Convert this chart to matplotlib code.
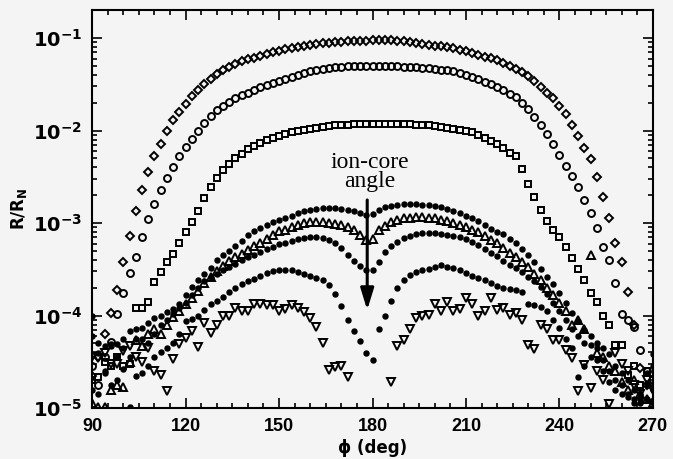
import numpy as np
import matplotlib
matplotlib.use('Agg')
import matplotlib.pyplot as plt
from matplotlib.ticker import FixedLocator, MultipleLocator, LogLocator, NullFormatter

# angles phi (deg), one point every 2 degrees
phi = np.arange(90, 271, 2)

# log10(R/R_N), 91 values per series (90..270 deg)
log_diamond = [
    -4.65, -4.45, -4.20, -3.97, -3.72, -3.42, -3.14, -2.87, -2.64, -2.45,
    -2.27, -2.14, -2.00, -1.89, -1.80, -1.71, -1.63, -1.56, -1.50, -1.44,
    -1.39, -1.35, -1.31, -1.28, -1.25, -1.23, -1.21, -1.19, -1.17, -1.15,
    -1.14, -1.12, -1.11, -1.10, -1.08, -1.07, -1.06, -1.05, -1.05, -1.04,
    -1.04, -1.03, -1.03, -1.03, -1.03, -1.02, -1.02, -1.02, -1.02, -1.03,
    -1.03, -1.04, -1.05, -1.06, -1.07, -1.08, -1.09, -1.10, -1.11, -1.13,
    -1.14, -1.16, -1.18, -1.20, -1.22, -1.24, -1.27, -1.30, -1.33, -1.37,
    -1.41, -1.46, -1.53, -1.59, -1.65, -1.73, -1.82, -1.94, -2.06, -2.19,
    -2.31, -2.50, -2.72, -2.95, -3.22, -3.42, -3.74, -4.10, -4.57, -4.75,
    -4.93]
log_circle = [
    -4.55, -4.75, -4.45, -4.29, -3.98, -3.76, -3.54, -3.37, -3.15, -2.96,
    -2.79, -2.64, -2.51, -2.39, -2.28, -2.18, -2.09, -2.00, -1.92, -1.84,
    -1.78, -1.73, -1.69, -1.65, -1.62, -1.59, -1.56, -1.53, -1.51, -1.48,
    -1.46, -1.44, -1.42, -1.40, -1.38, -1.36, -1.35, -1.33, -1.32, -1.31,
    -1.31, -1.30, -1.30, -1.30, -1.30, -1.30, -1.30, -1.30, -1.30, -1.30,
    -1.31, -1.31, -1.31, -1.32, -1.32, -1.33, -1.34, -1.35, -1.36, -1.38,
    -1.40, -1.42, -1.44, -1.47, -1.50, -1.53, -1.56, -1.60, -1.64, -1.70,
    -1.77, -1.85, -1.94, -2.04, -2.15, -2.26, -2.38, -2.49, -2.61, -2.75,
    -2.89, -3.05, -3.26, -3.40, -3.65, -3.98, -4.05, -4.12, -4.37, -4.60,
    -4.75]
log_square = [
    -4.70, -4.66, -4.50, -4.55, -4.45, -4.55, -4.52, -3.92, -3.92, -3.85,
    -3.64, -3.53, -3.42, -3.33, -3.22, -3.10, -2.99, -2.87, -2.73, -2.61,
    -2.51, -2.43, -2.36, -2.30, -2.25, -2.20, -2.17, -2.13, -2.10, -2.08,
    -2.06, -2.04, -2.02, -2.00, -1.99, -1.98, -1.97, -1.96, -1.95, -1.94,
    -1.94, -1.935, -1.93, -1.93, -1.93, -1.93, -1.93, -1.93, -1.93, -1.93,
    -1.93, -1.93, -1.94, -1.94, -1.94, -1.95, -1.96, -1.97, -1.98, -1.99,
    -2.00, -2.02, -2.05, -2.08, -2.11, -2.15, -2.19, -2.24, -2.28, -2.42,
    -2.58, -2.72, -2.86, -2.98, -3.07, -3.15, -3.26, -3.38, -3.50, -3.61,
    -3.76, -3.85, -4.00, -4.10, -4.32, -4.32, -4.64, -4.55, -4.75, -4.60,
    -4.70]
log_dot_top = [
    -4.00, -4.30, -4.33, -4.31, -4.31, -4.25, -4.17, -4.15, -4.13, -4.08,
    -4.03, -4.01, -3.96, -3.93, -3.87, -3.78, -3.69, -3.62, -3.55, -3.49,
    -3.40, -3.35, -3.30, -3.25, -3.19, -3.13, -3.09, -3.05, -3.02, -2.99,
    -2.97, -2.95, -2.92, -2.89, -2.87, -2.86, -2.85, -2.84, -2.84, -2.84,
    -2.85, -2.86, -2.87, -2.89, -2.91, -2.90, -2.86, -2.83, -2.81, -2.80,
    -2.79, -2.79, -2.79, -2.80, -2.80, -2.81, -2.83, -2.85, -2.87, -2.89,
    -2.92, -2.95, -2.98, -3.02, -3.06, -3.10, -3.12, -3.17, -3.22, -3.28,
    -3.34, -3.42, -3.50, -3.58, -3.66, -3.76, -3.86, -3.97, -4.06, -4.16,
    -4.22, -4.30, -4.35, -4.42, -4.55, -4.62, -4.70, -4.80, -4.85, -4.62,
    -4.42]
log_triangle_up = [
    -4.95, -4.99, -4.99, -4.80, -4.75, -4.77, -4.50, -4.26, -4.33, -4.20,
    -4.15, -4.20, -4.10, -4.02, -3.95, -3.88, -3.81, -3.73, -3.65, -3.58,
    -3.52, -3.46, -3.41, -3.37, -3.33, -3.29, -3.25, -3.21, -3.17, -3.13,
    -3.09, -3.07, -3.04, -3.02, -3.00, -2.99, -2.99, -2.99, -3.00, -3.01,
    -3.02, -3.04, -3.08, -3.13, -3.18, -3.17, -3.08, -3.03, -2.99, -2.97,
    -2.95, -2.94, -2.93, -2.93, -2.94, -2.95, -2.97, -2.98, -3.00, -3.02,
    -3.04, -3.07, -3.10, -3.14, -3.18, -3.22, -3.27, -3.32, -3.37, -3.42,
    -3.48, -3.55, -3.62, -3.70, -3.78, -3.86, -3.95, -4.10, -4.05, -4.14,
    -3.35, -4.40, -4.45, -4.55, -4.60, -4.72, -4.80, -4.70, -4.85, -4.90,
    -4.95]
log_dot_mid = [
    -4.22, -4.40, -4.60, -4.33, -4.45, -4.35, -4.45, -4.25, -4.25, -4.30,
    -4.20, -4.10, -4.05, -3.98, -3.92, -3.86, -3.78, -3.70, -3.63, -3.58,
    -3.55, -3.51, -3.47, -3.44, -3.40, -3.37, -3.34, -3.31, -3.28, -3.26,
    -3.23, -3.21, -3.19, -3.17, -3.16, -3.15, -3.15, -3.16, -3.18, -3.22,
    -3.27, -3.34, -3.41, -3.46, -3.51, -3.51, -3.42, -3.31, -3.25, -3.20,
    -3.16, -3.14, -3.12, -3.11, -3.11, -3.11, -3.12, -3.13, -3.14, -3.15,
    -3.17, -3.20, -3.24, -3.28, -3.32, -3.36, -3.41, -3.45, -3.49, -3.53,
    -3.58, -3.63, -3.69, -3.77, -3.86, -3.95, -4.05, -4.15, -4.22, -4.30,
    -4.32, -4.35, -4.48, -4.60, -4.70, -4.75, -4.85, -4.90, -4.95, -4.90,
    -4.80]
log_dot_low = [
    -4.80, -4.85, -4.62, -4.75, -4.70, -4.58, -4.99, -4.65, -4.62, -4.55,
    -4.45, -4.39, -4.35, -4.30, -4.20, -4.06, -4.04, -4.00, -3.94, -3.88,
    -3.84, -3.80, -3.75, -3.70, -3.66, -3.63, -3.60, -3.57, -3.54, -3.52,
    -3.51, -3.51, -3.51, -3.53, -3.55, -3.57, -3.59, -3.62, -3.67, -3.77,
    -3.90, -4.05, -4.17, -4.27, -4.40, -4.48, -4.15, -4.00, -3.84, -3.70,
    -3.62, -3.56, -3.53, -3.51, -3.50, -3.47, -3.45, -3.47, -3.49, -3.51,
    -3.54, -3.57, -3.59, -3.62, -3.65, -3.68, -3.70, -3.71, -3.72, -3.75,
    -3.88, -3.89, -3.91, -3.95, -4.05, -4.13, -4.25, -4.35, -4.66, -4.55,
    -4.45, -4.48, -4.60, -4.72, -4.80, -4.85, -4.88, -4.95, -4.90, -4.75,
    -4.55]
nan = np.nan
log_triangle_down = [
    -4.45, -4.46, -4.40, -4.52, -4.52, -4.38, -4.33, -4.45, -4.50, -4.35,
    -4.60, -4.64, -4.82, -4.47, -4.31, -4.24, -4.17, -4.34, -4.08, -4.19,
    -4.10, -4.01, -4.01, -3.92, -3.95, -3.95, -3.87, -3.88, -3.89, -3.89,
    -3.95, -3.93, -3.89, -3.92, -3.96, -4.03, -4.12, -4.30, -4.59, -4.56,
    -4.55, -4.66, nan, nan, nan, nan, nan, nan, -4.72, -4.33,
    -4.26, -4.15, -4.03, -4.00, -3.99, -3.88, -3.95, -3.85, -3.95, -3.93,
    -3.81, -3.88, -4.00, -3.95, -3.81, -3.94, -3.92, -3.99, -3.97, -4.05,
    -4.32, -4.36, -4.10, -4.15, -4.26, -4.26, -4.37, -4.46, -4.82, -4.53,
    -4.78, -4.60, -4.70, -4.96, -4.40, -4.52, -4.60, -4.75, -4.85, -4.70,
    -4.80]

bg = '#f4f4f4'
fig = plt.figure(figsize=(6.73, 4.59), dpi=100, facecolor=bg)
ax = fig.add_axes([0.137, 0.111, 0.833, 0.867], facecolor=bg)

open_series = [
    (log_diamond, 'D', 4.5),
    (log_circle, 'o', 5.0),
    (log_square, 's', 5.0),
    (log_triangle_up, '^', 5.5),
    (log_triangle_down, 'v', 6.0),
]
for vals, mk, ms in open_series:
    ax.plot(phi, 10 ** np.array(vals), linestyle='none', marker=mk, ms=ms,
            mfc='none', mec='black', mew=1.4)

for vals in (log_dot_top, log_dot_mid, log_dot_low):
    ax.plot(phi, 10 ** np.array(vals), linestyle='none', marker='o', ms=3.6,
            mfc='black', mec='black')

ax.set_yscale('log')
ax.set_xlim(90, 270)
ax.set_ylim(1e-5, 10 ** -0.697)

ax.xaxis.set_major_locator(FixedLocator([90, 120, 150, 180, 210, 240, 270]))
ax.xaxis.set_minor_locator(MultipleLocator(5))
ax.yaxis.set_minor_locator(LogLocator(base=10, subs=np.arange(2, 10), numticks=10))
ax.yaxis.set_minor_formatter(NullFormatter())
ax.set_yticks([1e-5, 1e-4, 1e-3, 1e-2, 1e-1])
ax.set_yticklabels([r'$\mathbf{10^{-5}}$', r'$\mathbf{10^{-4}}$', r'$\mathbf{10^{-3}}$',
                    r'$\mathbf{10^{-2}}$', r'$\mathbf{10^{-1}}$'])

ax.tick_params(which='both', direction='in', top=True, right=True, width=1.2)
ax.tick_params(which='major', length=7)
ax.tick_params(which='minor', length=3.5)
ax.tick_params(axis='x', labelsize=13, pad=7)
ax.tick_params(axis='y', labelsize=14, pad=7)
for lab in ax.get_xticklabels():
    lab.set_fontweight('bold')
    lab.set_family('Liberation Sans')
for sp in ax.spines.values():
    sp.set_linewidth(1.5)

ax.set_xlabel('ϕ (deg)', fontsize=12, fontweight='bold', labelpad=3)
ax.set_ylabel(r'R/R$_\mathbf{N}$', fontsize=12, fontweight='bold', labelpad=3)

ax.text(179.2, 10 ** -2.45, 'ion-core\nangle', ha='center', va='center',
        family='Liberation Serif', fontsize=17, linespacing=0.9)
ax.annotate('', xy=(178.3, 10 ** -3.97), xytext=(178.3, 10 ** -2.72),
            arrowprops=dict(arrowstyle='-|>,head_width=0.4,head_length=1.3',
                            color='black', lw=2.2))

fig.savefig('out.png', dpi=100, facecolor=bg)
